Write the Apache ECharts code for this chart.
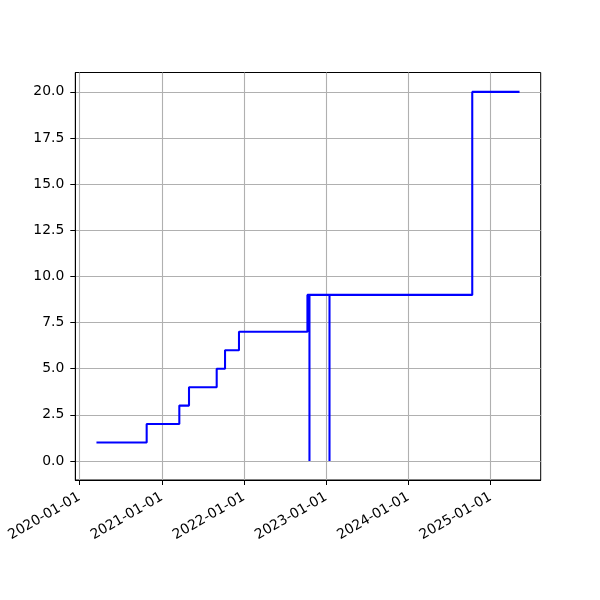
<!DOCTYPE html>
<html>
<head>
<meta charset="utf-8">
<script src="https://cdn.jsdelivr.net/npm/echarts@6/dist/echarts.min.js"></script>
<style>html,body{margin:0;padding:0;background:#fff}#c{width:600px;height:600px}</style>
</head>
<body>
<div id="c"></div>
<script>
const dates = ['2020-03-17','2020-10-26','2021-03-20','2021-05-02','2021-09-02','2021-10-09','2021-12-10','2022-10-10','2022-10-19','2022-10-19','2023-01-16','2023-01-16','2024-10-11','2025-05-09'];
const values = [1,2,3,4,5,6,7,9,0,9,0,9,20,20];
const xTicks = ['2020-01-01','2021-01-01','2022-01-01','2023-01-01','2024-01-01','2025-01-01'];
const yTicks = [0,2.5,5,7.5,10,12.5,15,17.5,20];

function ts(s){const p=s.split('-').map(Number);return Date.UTC(p[0],p[1]-1,p[2]);}
function fmt(v){const d=new Date(v);const p=n=>String(n).padStart(2,'0');return d.getUTCFullYear()+'-'+p(d.getUTCMonth()+1)+'-'+p(d.getUTCDate());}

const xTickTs = xTicks.map(ts);
const chart = echarts.init(document.getElementById('c'), null, {renderer:'canvas'});
chart.setOption({
  animation:false,
  backgroundColor:'#fff',
  grid:{left:75.3,right:59.3,top:72.5,bottom:120,show:true,borderColor:'#000',borderWidth:1,backgroundColor:'transparent'},
  xAxis:{
    type:'value',
    min: ts('2019-12-14'),
    max: ts('2025-08-11'),
    axisLine:{show:true,onZero:false,lineStyle:{color:'#000',width:1}},
    axisTick:{show:true,inside:false,length:5,lineStyle:{color:'#000',width:1},customValues:xTickTs},
    axisLabel:{show:true,rotate:30,margin:16,color:'#000',fontFamily:'DejaVu Sans',fontSize:13.9,customValues:xTickTs,formatter:v=>fmt(v),hideOverlap:false},
    splitLine:{show:true,lineStyle:{color:'#b0b0b0',width:1.1},customValues:xTickTs}
  },
  yAxis:{
    type:'value',
    min:-1.03,
    max:21.05,
    axisLine:{show:true,onZero:false,lineStyle:{color:'#000',width:1}},
    axisTick:{show:true,inside:false,length:5,lineStyle:{color:'#000',width:1},customValues:yTicks},
    axisLabel:{show:true,margin:11,color:'#000',fontFamily:'DejaVu Sans',fontSize:13.9,customValues:yTicks,formatter:v=>Number(v).toFixed(1)},
    splitLine:{show:true,lineStyle:{color:'#b0b0b0',width:1.1},customValues:yTicks}
  },
  series:[{
    type:'line',
    step:'end',
    showSymbol:false,
    symbol:'none',
    data: dates.map((d,i)=>[ts(d),values[i]]),
    lineStyle:{color:'#0000ff',width:2.08},
    itemStyle:{color:'#0000ff'}
  }]
});
</script>
</body>
</html>
